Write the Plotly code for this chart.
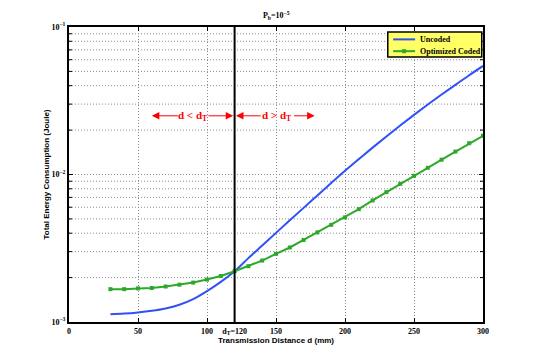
import math
import plotly.graph_objects as go

# -------------------------------
# Data
# -------------------------------
distance = [30, 40, 50, 60, 70, 80, 90, 100, 110, 120, 130, 140, 150, 160,
            170, 180, 190, 200, 210, 220, 230, 240, 250, 260, 270, 280, 290, 300]

uncoded = [1.13e-3, 1.14e-3, 1.16e-3, 1.19e-3, 1.235e-3, 1.31e-3, 1.43e-3,
           1.62e-3, 1.87e-3, 2.21e-3, 2.71e-3, 3.30e-3, 4.02e-3, 4.89e-3,
           5.94e-3, 7.21e-3, 8.75e-3, 1.059e-2, 1.271e-2, 1.521e-2, 1.811e-2,
           2.148e-2, 2.535e-2, 2.979e-2, 3.483e-2, 4.055e-2, 4.710e-2, 5.445e-2]

coded = [1.67e-3, 1.67e-3, 1.69e-3, 1.70e-3, 1.74e-3, 1.79e-3, 1.85e-3,
         1.94e-3, 2.05e-3, 2.21e-3, 2.39e-3, 2.61e-3, 2.90e-3, 3.20e-3,
         3.60e-3, 4.05e-3, 4.56e-3, 5.12e-3, 5.82e-3, 6.67e-3, 7.60e-3,
         8.65e-3, 9.80e-3, 1.11e-2, 1.26e-2, 1.43e-2, 1.63e-2, 1.83e-2]

series_names = ["Uncoded", "Optimized Coded"]
series_colors = ["#3050F8", "#2EA82A"]

d_threshold = 120
x_ticks = [0, 50, 100, 120, 150, 200, 250, 300]
x_ticklabels = ["0", "50", "100", "d<sub>T</sub>=120", "150", "200", "250", "300"]

y_ticks = [1e-3, 1e-2, 1e-1]
y_ticklabels = ["10<sup>−3</sup>", "10<sup>−2</sup>", "10<sup>−1</sup>"]
y_minor = [m * dec for dec in [1e-3, 1e-2] for m in range(2, 10)]
y_range = [-3, -1]

# region arrows: (head, tail) in mm, and their labels
arrow_level = 0.025
arrows = [(60, 80), (119, 100), (121, 140), (178, 162)]
region_labels = [(90, "d &lt; d<sub>T</sub>"), (151, "d &gt; d<sub>T</sub>")]

serif = "Liberation Serif"
sans = "Liberation Sans"
grid_color = "#8a8a8a"
grid_dash = "1px,2px"

fig = go.Figure()
fig.add_trace(go.Scatter(
    x=distance, y=uncoded, mode="lines", name=series_names[0],
    line=dict(color=series_colors[0], width=2, shape="spline"),
))
fig.add_trace(go.Scatter(
    x=distance, y=coded, mode="lines+markers", name=series_names[1],
    line=dict(color=series_colors[1], width=2),
    marker=dict(symbol="square", size=4, color=series_colors[1]),
))

# minor log gridlines + inside minor ticks (left and right)
for v in y_minor:
    frac = (math.log10(v) - y_range[0]) / (y_range[1] - y_range[0])
    fig.add_shape(type="line", xref="x domain", yref="y domain", x0=0, x1=1,
                  y0=frac, y1=frac, layer="below",
                  line=dict(color=grid_color, width=1, dash=grid_dash))
    for side, (a, b) in [(0, (0, 3)), (1, (-3, 0))]:
        fig.add_shape(type="line", xref="x domain", yref="y domain",
                      xsizemode="pixel", xanchor=side, x0=a, x1=b,
                      y0=frac, y1=frac, line=dict(color="black", width=1))

# threshold line
fig.add_shape(type="line", x0=d_threshold, x1=d_threshold, y0=0, y1=1,
              xref="x", yref="paper", line=dict(color="black", width=2))

# region arrows
arrow_y = math.log10(arrow_level)
arrow_style = dict(xref="x", yref="y", axref="x", ayref="y", text="",
                   showarrow=True, arrowhead=2, arrowsize=1.5, arrowwidth=1,
                   arrowcolor="red")
for head, tail in arrows:
    fig.add_annotation(x=head, y=arrow_y, ax=tail, ay=arrow_y, **arrow_style)
for xc, label in region_labels:
    fig.add_annotation(x=xc, y=arrow_y, text=label, showarrow=False,
                       font=dict(family=serif, size=11, color="red", weight="bold"))

# legend box drawn by hand (plotly's own legend is much taller)
fig.add_shape(type="rect", xref="paper", yref="paper", x0=0.770, x1=0.997,
              y0=0.898, y1=0.983, fillcolor="#FFFF66",
              line=dict(color="black", width=1.5), layer="above")
for i, (name, color) in enumerate(zip(series_names, series_colors)):
    ly = 0.958 - i * 0.040
    fig.add_shape(type="line", xref="paper", yref="paper", x0=0.783, x1=0.836,
                  y0=ly, y1=ly, line=dict(color=color, width=2), layer="above")
    fig.add_annotation(xref="paper", yref="paper", x=0.843, y=ly, text=name,
                       showarrow=False, xanchor="left", yanchor="middle",
                       font=dict(family=serif, size=8, color="black", weight="bold"))
fig.add_shape(type="rect", xref="paper", yref="paper",
              xsizemode="pixel", ysizemode="pixel", xanchor=0.8095, yanchor=0.918,
              x0=-2, x1=2, y0=-2, y1=2, fillcolor=series_colors[1],
              line=dict(width=0), layer="above")

# page body adds an 8px offset, so the figure is 8px smaller than the window
fig.update_layout(
    width=526, height=355,
    margin=dict(l=61, r=51, t=19, b=41),
    paper_bgcolor="white", plot_bgcolor="white",
    title=dict(text="<b>P<sub>b</sub>=10<sup>−5</sup></b>", x=0.510, xanchor="center",
               yref="container", y=0.980, yanchor="middle",
               font=dict(family=serif, size=8, color="black")),
    showlegend=False,
)

fig.update_layout(xaxis=dict(
    range=[0, 300], tickvals=x_ticks, ticktext=x_ticklabels,
    ticks="inside", ticklen=4, tickcolor="black", tickwidth=1,
    showline=True, linecolor="black", linewidth=2, mirror="ticks",
    zeroline=False, automargin=False,
    showgrid=True, gridcolor=grid_color, griddash=grid_dash, gridwidth=1,
    tickfont=dict(family=serif, size=8, color="black", weight="bold"),
    title=dict(text="Transmission Distance d (mm)", standoff=2,
               font=dict(family=sans, size=8, color="black", weight="bold")),
))
fig.update_layout(yaxis=dict(
    type="log", range=y_range, tickvals=y_ticks, ticktext=y_ticklabels,
    ticks="inside", ticklen=4, tickcolor="black", tickwidth=1,
    showline=True, linecolor="black", linewidth=2, mirror="ticks",
    zeroline=False, automargin=False,
    showgrid=True, gridcolor=grid_color, griddash=grid_dash, gridwidth=1,
    tickfont=dict(family=serif, size=8, color="black", weight="bold"),
    title=dict(text="Total Energy Consumption (Joule)", standoff=1,
               font=dict(family=sans, size=8, color="black", weight="bold")),
))

fig.write_html("out.html")
